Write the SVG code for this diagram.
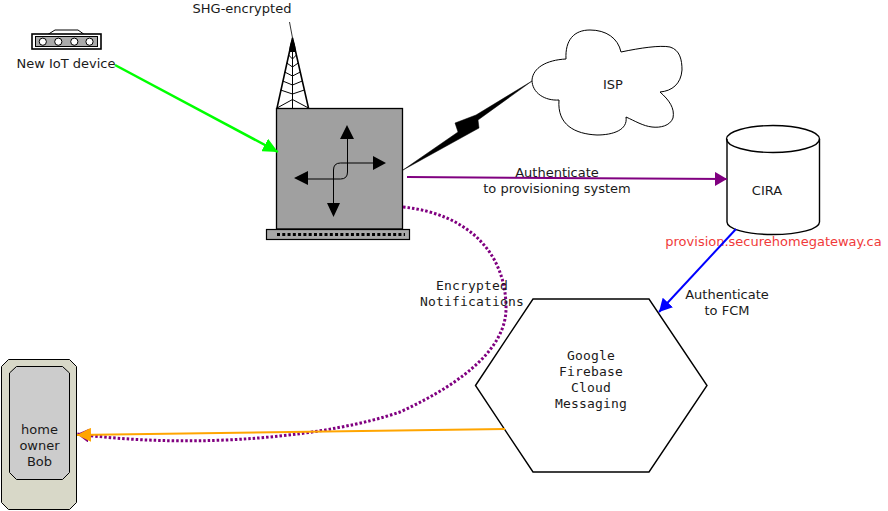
<svg xmlns="http://www.w3.org/2000/svg" width="888" height="511" viewBox="0 0 888 511">
<style>
text{font-family:"DejaVu Sans",sans-serif;font-size:13px;fill:#1a1a1a;text-anchor:middle}
text.m{font-family:"DejaVu Sans Mono",monospace;letter-spacing:.17px}
.s{stroke:#000;fill:none;stroke-width:1}
.t{stroke:#000;fill:none;stroke-width:1.4}
</style>
<defs>
<marker id="ag" markerUnits="userSpaceOnUse" markerWidth="16" markerHeight="14" refX="15" refY="7" orient="auto"><path d="M0 0L15 7L0 14z" fill="#0f0"/></marker>
<marker id="ap" markerUnits="userSpaceOnUse" markerWidth="13" markerHeight="14" refX="12" refY="7" orient="auto"><path d="M0 0L12 7L0 14z" fill="#800080"/></marker>
<marker id="ab" markerUnits="userSpaceOnUse" markerWidth="14" markerHeight="14" refX="13" refY="7" orient="auto"><path d="M0 0L13 7L0 14z" fill="#00f"/></marker>
<marker id="ao" markerUnits="userSpaceOnUse" markerWidth="15" markerHeight="14" refX="14" refY="7" orient="auto"><path d="M0 0L14 7L0 14z" fill="#ffa500"/></marker>
</defs>
<g id="iot-device">
<path d="M47 35L55 30H78L85 35" fill="#fff" class="s"/>
<rect x="32" y="34" width="69" height="15" fill="#fff" stroke="#000" stroke-width="1.600"/>
<rect x="35.500" y="36.500" width="62" height="10" fill="#aaa" stroke="#000"/>
<g fill="#fff" stroke="#000"><circle cx="42.800" cy="41.700" r="3.600"/><circle cx="58.300" cy="41.700" r="3.600"/><circle cx="74.300" cy="41.700" r="3.600"/><circle cx="89.500" cy="41.700" r="3.600"/></g>
<text x="66" y="68">New IoT device</text>
</g>
<g id="gateway">
<text x="242" y="13">SHG-encrypted</text>
<path d="M289.500 22L292.500 38" stroke="#000" stroke-width=".8" fill="none"/>
<path d="M292.500 38L277 108L292.500 116L308.500 108z" fill="#fff" stroke="#000" stroke-width="1.600"/>
<path d="M292.500 38V116M277 108L292.500 99.500L308.500 108M288.600 55L292.500 59L296.400 55M286.800 63L292.500 67L298.200 63M284.700 72L292.500 76L300.300 72M282.700 81L292.500 85L302.300 81M280.600 90L292.500 94L304.400 90" class="s"/>
<path d="M290 45L292.500 38L295 45L296 52H289z" fill="#000"/>
<rect x="276.500" y="108.500" width="126" height="120.500" fill="#a0a0a0" stroke="#000" stroke-width="1.300"/>
<rect x="266.500" y="229.500" width="143" height="10" fill="#a9a9a9" stroke="#000" stroke-width="1.200"/>
<path d="M277 234.500H405" stroke="#000" stroke-width="3" stroke-dasharray="3 2.280"/>
<path d="M347.500 139V172Q347.500 179 340.500 179H308M373 163H340.500Q333.500 163 333.500 170V203" class="s"/>
<path d="M347 125L354 139H340zM386 163L373 156V170zM294 178L308 171V185zM333.500 217L327 203H340z" fill="#000"/>
</g>
<g id="isp">
<path d="M403 170L458 132L455 123L476 115L532 81L478 120L479 128z" fill="#000" stroke="#000" stroke-width=".5"/>
<path d="M566 59C565 40 574 30 590 30C606 30 618 38 621 52C640 48 660 45 670 47C680 50 682 60 682 70C681 84 672 91 660 92C669 100 675 108 673 118C670 126 660 128 652 127C643 126 635 121 626 117C628 130 613 135 597 135C575 134 557 125 559 100C545 101 532 93 532 80C533 68 546 60 566 59z" fill="#fff" class="s"/>
<text x="613" y="89">ISP</text>
</g>
<g id="cira">
<path d="M727 139V222C727 229 747 234.500 773 234.500C799 234.500 819.500 229 819.500 222V139" fill="#fff" class="t"/>
<ellipse cx="773" cy="139" rx="46.500" ry="13.500" fill="#fff" class="t"/>
<text x="767" y="195">CIRA</text>
<text x="773.500" y="246" style="fill:#f03a3a">provision.securehomegateway.ca</text>
</g>
<g id="fcm">
<path d="M475.500 385.500L533 299H649L707 385.500L649 472H533z" fill="#fff" class="t"/>
<text class="m" x="591" y="360">Google</text><text class="m" x="591" y="376">Firebase</text><text class="m" x="591" y="392">Cloud</text><text class="m" x="591" y="408">Messaging</text>
</g>
<g id="phone">
<path d="M8.500 359.500H69.500L76.500 366.500V502.500L69.500 509.500H8.500L1.500 502.500V366.500z" fill="#d8d8c8" stroke="#000"/>
<path d="M16.500 366.500H62.500L69.500 373V472.500L62.500 479.500H16.500L9.500 472.500V373z" fill="#ccc" stroke="#000"/>
<text x="39.500" y="434">home</text><text x="39.500" y="450">owner</text><text x="39.500" y="466">Bob</text>
</g>
<g id="connectors" fill="none">
<path d="M115 65L278 152" stroke="#0f0" stroke-width="2.500" marker-end="url(#ag)"/>
<path d="M407 177L727 179" stroke="#800080" stroke-width="2" marker-end="url(#ap)"/>
<path d="M736 229L659 312" stroke="#00f" stroke-width="2" marker-end="url(#ab)"/>
<path d="M403 207C470 214 507 255 506 310C505 345 470 380 400 412C330 436 200 450 77 434" stroke="#800080" stroke-width="3" stroke-dasharray="2.500 2" marker-end="url(#ap)"/>
<path d="M505 429L77 435" stroke="#ffa500" stroke-width="2" marker-end="url(#ao)"/>
</g>
<g id="labels">
<text x="557" y="177">Authenticate</text><text x="557" y="193">to provisioning system</text>
<text x="727" y="299">Authenticate</text><text x="727" y="315">to FCM</text>
<text class="m" x="472" y="290">Encrypted</text><text class="m" x="472" y="306">Notifications</text>
</g>
</svg>
